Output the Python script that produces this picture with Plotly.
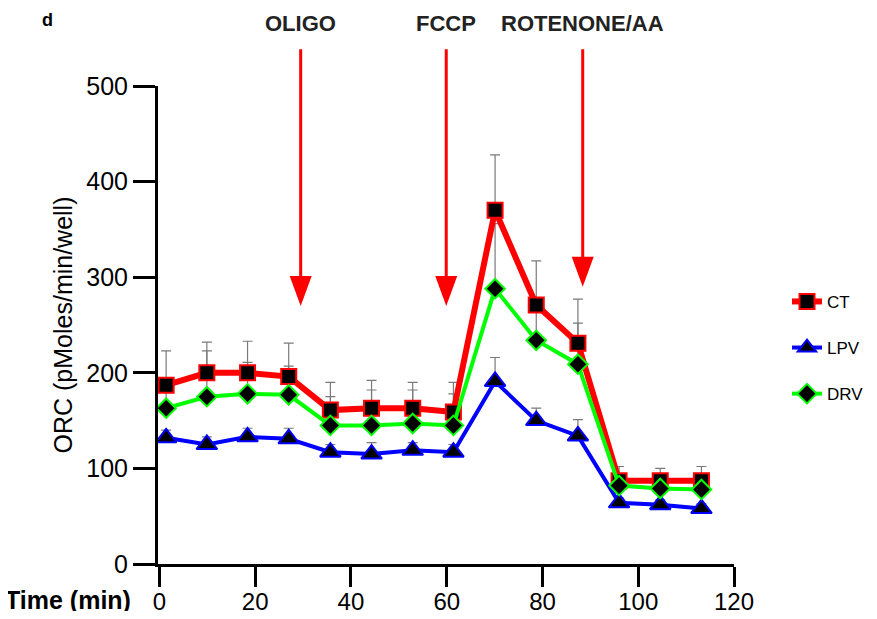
import plotly.graph_objects as go

# ---------------- data ----------------
time_min = [1.4, 9.9, 18.4, 27.0, 35.7, 44.3, 52.9, 61.4, 70.1, 78.7, 87.4, 96.0, 104.6, 113.2]

ct_values = [187, 200, 200, 196, 161, 163, 163, 159, 370, 271, 231, 87, 87, 87]
ct_err = [36, 32, 33, 35, 29, 29, 27, 31, 58, 46, 46, 15, 13, 15]

lpv_values = [132, 125, 133, 131, 117, 115, 119, 117, 191, 150, 134, 64, 62, 58]
lpv_err = [8, 8, 9, 11, 8, 12, 8, 8, 25, 13, 17, 5, 5, 5]

drv_values = [163, 175, 178, 177, 145, 145, 147, 145, 288, 234, 209, 82, 79, 78]
drv_err = [30, 48, 33, 30, 30, 37, 35, 33, 68, 40, 43, 10, 10, 10]

injection_labels = ["OLIGO", "FCCP", "ROTENONE/AA"]
injection_times = [29.5, 59.9, 88.4]
injection_tip_values = [270, 270, 290]

x_ticks = [0, 20, 40, 60, 80, 100, 120]
y_ticks = [0, 100, 200, 300, 400, 500]

# ---------------- style ----------------
FONT = "Liberation Sans, Arial, sans-serif"
X_RANGE = [-0.3, 120]
Y_RANGE = [0, 500]

series = [
    dict(name="CT", y=ct_values, err=ct_err, color="#ff0000", lw=6,
         symbol="square", size=15),
    dict(name="LPV", y=lpv_values, err=lpv_err, color="#0000ff", lw=4,
         symbol="triangle-up", size=18),
    dict(name="DRV", y=drv_values, err=drv_err, color="#00ff00", lw=4,
         symbol="diamond", size=15),
]

fig = go.Figure()

# error bars first (behind everything), upper only
for s in series:
    fig.add_trace(go.Scatter(
        x=time_min, y=s["y"], mode="markers",
        marker=dict(color="rgba(0,0,0,0)", size=1),
        error_y=dict(type="data", array=s["err"], arrayminus=[0] * len(s["err"]),
                     symmetric=False, color="#7a7a7a", thickness=1.2, width=5),
        showlegend=False, hoverinfo="skip",
    ))

for s in series:
    fig.add_trace(go.Scatter(
        x=time_min, y=s["y"], mode="lines+markers", name=s["name"],
        legendgroup=s["name"],
        line=dict(color=s["color"], width=s["lw"]),
        marker=dict(symbol=s["symbol"], size=s["size"], color="black",
                    line=dict(color=s["color"], width=2)),
    ))

# arrows and labels
top_paper = 1.077
for lab, t, tip in zip(injection_labels, injection_times, injection_tip_values):
    tip_p = (tip - Y_RANGE[0]) / (Y_RANGE[1] - Y_RANGE[0])
    fig.add_shape(type="line", xref="x", yref="paper", x0=t, x1=t,
                  y0=tip_p + 0.03, y1=top_paper,
                  line=dict(color="#ff0000", width=3))
    fig.add_shape(type="path", xref="x", yref="paper",
                  xsizemode="pixel", ysizemode="pixel",
                  xanchor=t, yanchor=tip_p,
                  path="M-11,30 L11,30 L0,0 Z",
                  fillcolor="#ff0000", line=dict(width=0))
    fig.add_annotation(text="<b>" + lab + "</b>", xref="x", yref="paper", x=t, y=1.13,
                       showarrow=False, xanchor="center", yanchor="middle",
                       font=dict(family=FONT, size=22, color="#222222"))

fig.add_annotation(text="<b>d</b>", xref="paper", yref="paper", x=-0.191, y=1.138,
                   showarrow=False, xanchor="center", yanchor="middle",
                   font=dict(family=FONT, size=18, color="black"))
fig.add_annotation(text="<b>Time (min)</b>", xref="paper", yref="paper", x=-0.043, y=-0.0753,
                   showarrow=False, xanchor="right", yanchor="middle",
                   font=dict(family=FONT, size=25, color="black"))

# page body has an 8px default margin: keep the figure inside the window
fig.update_layout(
    width=861, height=603,
    margin=dict(l=150, r=135, t=78, b=47, autoexpand=False),
    paper_bgcolor="white", plot_bgcolor="white",
    showlegend=True,
    legend=dict(xref="container", x=1.0, y=0.586, xanchor="right", yanchor="top",
                font=dict(family=FONT, size=17, color="black"),
                tracegroupgap=21, bgcolor="rgba(0,0,0,0)", borderwidth=0),
    xaxis=dict(range=X_RANGE, tickvals=x_ticks, showgrid=False, zeroline=False,
               automargin=False,
               showline=True, linecolor="black", linewidth=3,
               ticks="outside", ticklen=20, tickwidth=3, tickcolor="black",
               ticklabelstandoff=-6,
               tickfont=dict(family=FONT, size=24, color="black")),
    yaxis=dict(range=Y_RANGE, tickvals=y_ticks, showgrid=False, zeroline=False,
               automargin=False,
               showline=True, linecolor="black", linewidth=3,
               ticks="outside", ticklen=22, tickwidth=3, tickcolor="black",
               tickfont=dict(family=FONT, size=25, color="black"),
               title=dict(text="ORC (pMoles/min/well)", standoff=7,
                          font=dict(family=FONT, size=25, color="black"))),
)

fig.write_html("out.html")
